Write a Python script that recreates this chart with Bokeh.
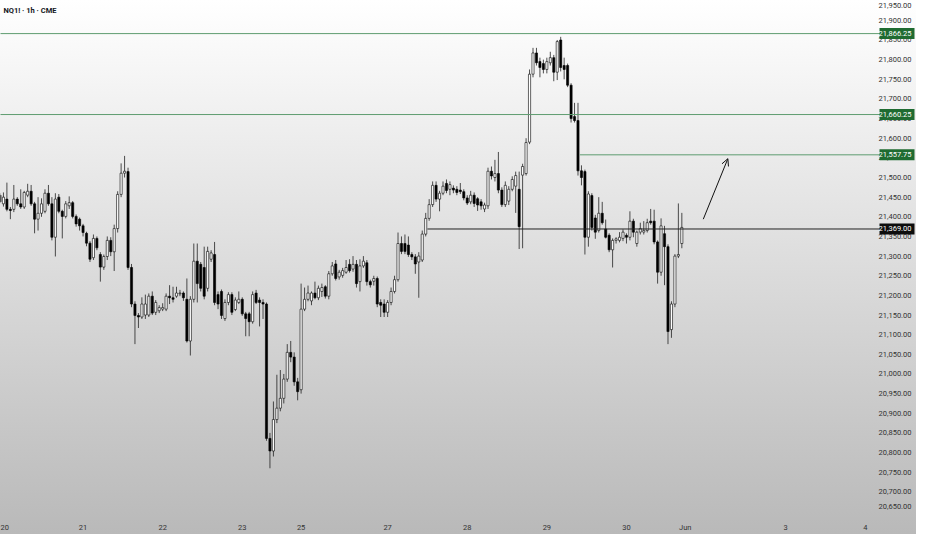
from bokeh.plotting import figure
from bokeh.models import (ColumnDataSource, Label, Arrow, OpenHead, FixedTicker,
                          InlineStyleSheet)
from bokeh.core.properties import value
from bokeh.embed import file_html
from bokeh.resources import INLINE

# NQ1! hourly bars (CME, ET), 19 May 23:00 -> 30 May 16:00
opens = [21455, 21433, 21445, 21419, 21419, 21445, 21433, 21425, 21455, 21465,
         21433, 21394, 21409, 21414, 21460, 21433, 21348, 21450, 21414, 21401,
         21428, 21436, 21401, 21394, 21377, 21358, 21333, 21296, 21345, 21304,
         21272, 21299, 21340, 21311, 21370, 21457, 21511, 21515, 21271, 21178,
         21149, 21145, 21150, 21150, 21198, 21157, 21161, 21165, 21165, 21198,
         21194, 21198, 21204, 21206, 21190, 21084, 21190, 21287, 21279, 21271,
         21218, 21292, 21304, 21202, 21210, 21141, 21182, 21202, 21164, 21182,
         21190, 21153, 21153, 21133, 21206, 21188, 21182, 21178, 20836, 20804,
         20884, 20913, 20938, 20987, 21055, 21043, 20980, 20960, 21165, 21190,
         21186, 21206, 21194, 21210, 21222, 21198, 21255, 21280, 21247, 21251,
         21259, 21279, 21267, 21279, 21235, 21275, 21283, 21235, 21236, 21243,
         21182, 21178, 21157, 21182, 21210, 21240, 21332, 21332, 21328, 21304,
         21298, 21285, 21290, 21356, 21396, 21431, 21480, 21445, 21460, 21485,
         21470, 21473, 21470, 21468, 21464, 21448, 21438, 21455, 21446, 21438,
         21420, 21428, 21516, 21500, 21510, 21468, 21431, 21440, 21470, 21478,
         21470, 21506, 21510, 21590, 21763, 21817, 21795, 21790, 21775, 21792,
         21805, 21768, 21850, 21785, 21785, 21735, 21655, 21645, 21517, 21515,
         21348, 21454, 21397, 21365, 21409, 21369, 21353, 21316, 21340, 21340,
         21345, 21353, 21348, 21389, 21332, 21361, 21361, 21365, 21389, 21389,
         21336, 21259, 21357, 21324, 21113, 21178, 21300, 21332]
highs = [21460, 21462, 21487, 21425, 21481, 21450, 21470, 21466, 21484, 21481,
         21438, 21450, 21447, 21470, 21481, 21450, 21460, 21458, 21418, 21440,
         21452, 21440, 21406, 21398, 21382, 21362, 21338, 21355, 21350, 21310,
         21304, 21350, 21348, 21380, 21465, 21536, 21555, 21525, 21280, 21185,
         21155, 21195, 21202, 21205, 21210, 21188, 21175, 21180, 21205, 21226,
         21222, 21222, 21214, 21210, 21243, 21198, 21332, 21332, 21285, 21324,
         21324, 21315, 21336, 21210, 21215, 21190, 21208, 21208, 21195, 21210,
         21195, 21158, 21158, 21210, 21214, 21195, 21190, 21182, 20850, 20930,
         20998, 21010, 21000, 21076, 21084, 21055, 20990, 21230, 21220, 21225,
         21210, 21235, 21225, 21230, 21226, 21262, 21285, 21290, 21265, 21270,
         21290, 21292, 21300, 21290, 21292, 21300, 21290, 21240, 21250, 21248,
         21190, 21190, 21188, 21220, 21250, 21360, 21350, 21355, 21350, 21310,
         21305, 21310, 21365, 21410, 21445, 21490, 21490, 21466, 21490, 21495,
         21490, 21480, 21478, 21486, 21470, 21455, 21466, 21462, 21450, 21445,
         21436, 21525, 21528, 21545, 21565, 21475, 21490, 21478, 21503, 21515,
         21515, 21535, 21600, 21775, 21830, 21830, 21805, 21800, 21805, 21820,
         21812, 21850, 21858, 21805, 21790, 21740, 21690, 21690, 21531, 21520,
         21465, 21460, 21405, 21450, 21438, 21393, 21358, 21345, 21348, 21361,
         21368, 21358, 21414, 21395, 21365, 21385, 21389, 21395, 21420, 21418,
         21340, 21396, 21377, 21330, 21185, 21305, 21434, 21410]
lows = [21435, 21426, 21414, 21394, 21412, 21428, 21420, 21420, 21450, 21428,
        21358, 21365, 21400, 21409, 21428, 21340, 21299, 21409, 21345, 21396,
        21420, 21396, 21375, 21365, 21350, 21325, 21285, 21290, 21315, 21235,
        21265, 21290, 21300, 21262, 21360, 21450, 21500, 21265, 21170, 21076,
        21117, 21140, 21140, 21145, 21150, 21150, 21155, 21160, 21160, 21178,
        21182, 21194, 21198, 21186, 21080, 21047, 21182, 21182, 21210, 21190,
        21210, 21285, 21175, 21165, 21140, 21135, 21175, 21150, 21160, 21178,
        21148, 21096, 21096, 21128, 21178, 21121, 21140, 20830, 20760, 20790,
        20875, 20905, 20925, 20980, 21030, 20970, 20933, 20950, 21160, 21185,
        21175, 21190, 21188, 21196, 21192, 21190, 21250, 21238, 21240, 21245,
        21255, 21258, 21260, 21220, 21210, 21270, 21225, 21220, 21225, 21170,
        21145, 21145, 21145, 21175, 21205, 21235, 21305, 21305, 21298, 21290,
        21255, 21194, 21285, 21350, 21390, 21425, 21438, 21414, 21455, 21460,
        21455, 21460, 21455, 21458, 21442, 21430, 21432, 21425, 21415, 21418,
        21412, 21420, 21495, 21490, 21460, 21425, 21425, 21430, 21465, 21410,
        21318, 21320, 21505, 21585, 21755, 21785, 21755, 21765, 21765, 21785,
        21745, 21748, 21770, 21750, 21730, 21640, 21640, 21505, 21480, 21304,
        21324, 21365, 21344, 21360, 21380, 21345, 21310, 21271, 21332, 21335,
        21338, 21332, 21340, 21348, 21324, 21355, 21355, 21360, 21380, 21330,
        21230, 21250, 21226, 21076, 21092, 21170, 21295, 21320]
closes = [21438, 21450, 21419, 21416, 21445, 21433, 21425, 21462, 21465, 21433,
          21394, 21409, 21433, 21460, 21433, 21348, 21445, 21414, 21401, 21433,
          21436, 21401, 21382, 21377, 21360, 21333, 21292, 21345, 21321, 21272,
          21299, 21340, 21311, 21370, 21457, 21511, 21516, 21271, 21178, 21149,
          21145, 21178, 21178, 21198, 21155, 21182, 21169, 21169, 21198, 21194,
          21190, 21206, 21206, 21194, 21084, 21190, 21287, 21230, 21218, 21198,
          21312, 21308, 21182, 21178, 21149, 21182, 21202, 21157, 21188, 21190,
          21153, 21141, 21133, 21202, 21182, 21182, 21178, 20836, 20804, 20884,
          20913, 20938, 20987, 21055, 21043, 20980, 20955, 21165, 21190, 21206,
          21206, 21194, 21218, 21220, 21198, 21255, 21275, 21243, 21259, 21263,
          21271, 21263, 21279, 21230, 21275, 21287, 21235, 21227, 21243, 21178,
          21175, 21157, 21182, 21210, 21240, 21332, 21312, 21312, 21304, 21298,
          21280, 21300, 21356, 21396, 21431, 21480, 21445, 21460, 21478, 21467,
          21482, 21468, 21462, 21464, 21448, 21435, 21455, 21434, 21430, 21428,
          21430, 21516, 21504, 21510, 21468, 21431, 21480, 21470, 21495, 21505,
          21375, 21528, 21589, 21763, 21817, 21792, 21780, 21775, 21795, 21805,
          21768, 21846, 21780, 21775, 21735, 21650, 21645, 21517, 21500, 21348,
          21458, 21373, 21361, 21409, 21385, 21348, 21316, 21340, 21344, 21348,
          21361, 21348, 21389, 21361, 21361, 21370, 21365, 21385, 21385, 21336,
          21259, 21377, 21324, 21108, 21178, 21300, 21304, 21373]

# first bar of each session date on the time axis
day_ticks = [1, 24, 47, 70, 87, 112, 135, 158, 181, 198, 227, 250]
day_labels = ["20", "21", "22", "23", "25", "27", "28", "29", "30", "Jun", "3", "4"]

# price scale
price_ticks = list(range(20650, 21951, 50))

# drawn price levels and the bar where each one starts
levels = [21866.25, 21660.25, 21557.75, 21369.00]
level_from = [0, 0, 167.5, 123.5]

# hand drawn arrow (bar index, price)
arrow_from = (203.2, 21394)
arrow_to = (210.3, 21548)

W, H = 916, 534
X0, X1 = 0.15, 264.8          # bar-index range across the whole width
Y0, Y1 = 20650, 21950.5
SCALE_W = 38                  # width of the price scale strip on the right
FONT = "Roboto"
level_line = ["#5e9c70", "#5e9c70", "#5e9c70", "#222222"]
level_box = ["#1f6b31", "#1f6b31", "#1f6b31", "#0d0d0d"]


def px(xpix):
    # bar index at a horizontal pixel position of the plot
    return X0 + xpix * (X1 - X0) / W


source = ColumnDataSource(data=dict(
    x=list(range(len(closes))),
    top=[max(o, c) for o, c in zip(opens, closes)],
    bottom=[min(o, c) for o, c in zip(opens, closes)],
    high=highs,
    low=lows,
    fill=["#ffffff" if c >= o else "#000000" for o, c in zip(opens, closes)],
))

p = figure(width=W, height=H, x_range=(X0, X1), y_range=(Y0, Y1),
           toolbar_location=None, output_backend="svg", y_axis_location=None,
           min_border_left=0, min_border_top=0, min_border_right=0, min_border_bottom=17)
p.background_fill_color = None
p.border_fill_color = None
p.outline_line_color = None
p.stylesheets = [InlineStyleSheet(
    css=":host { background: linear-gradient(to bottom, #ffffff 0%, #dcdcdc 50%, #b9b9b9 100%); }")]
p.xgrid.grid_line_color = None
p.ygrid.grid_line_color = None

p.segment(x0="x", y0="high", x1="x", y1="low", source=source, line_color="#222222", line_width=0.8)
p.vbar(x="x", top="top", bottom="bottom", width=0.62, source=source,
       fill_color="fill", line_color="#000000", line_width=0.6)

line_end = px(W - SCALE_W + 2)
for price, start, lc in zip(levels, level_from, level_line):
    p.segment(x0=[start], y0=[price], x1=[line_end], y1=[price], line_color=lc, line_width=1)

# price scale on the right; the two edge labels are nudged inside the frame
label_x = px(W - 5)
nudge = [-5 if t == Y0 else (5 if t >= Y1 - 1 else 0) for t in price_ticks]
p.text(x=[label_x] * len(price_ticks), y=price_ticks, y_offset=nudge,
       text=[f"{t:,.2f}" for t in price_ticks], text_align="right", text_baseline="middle",
       text_font=value(FONT), text_font_size=value("7.5px"), text_color="#333333")

# level tags on the price scale
p.rect(x=[px(W - SCALE_W + 18.5)] * len(levels), y=levels, width=35, height=11,
       width_units="screen", height_units="screen", fill_color=level_box, line_color=None)
p.text(x=[label_x] * len(levels), y=levels, text=[f"{v:,.2f}" for v in levels],
       text_align="right", text_baseline="middle", text_font=value(FONT),
       text_font_size=value("7.5px"), text_color="#ffffff")

p.add_layout(Arrow(end=OpenHead(size=7, line_width=1, line_color="#111111"),
                   x_start=arrow_from[0], y_start=arrow_from[1],
                   x_end=arrow_to[0], y_end=arrow_to[1],
                   line_width=1, line_color="#111111"))

p.add_layout(Label(x=1.0, y=21926, text="NQ1! · 1h · CME", text_font=FONT,
                   text_font_size="7.5px", text_font_style="bold",
                   text_color="#131722", text_baseline="middle"))

p.xaxis.ticker = FixedTicker(ticks=day_ticks)
p.xaxis.major_label_overrides = dict(zip(day_ticks, day_labels))
p.xaxis.axis_line_color = None
p.xaxis.major_tick_line_color = None
p.xaxis.minor_tick_line_color = None
p.xaxis.major_label_text_font = FONT
p.xaxis.major_label_text_font_size = "7.5px"
p.xaxis.major_label_text_color = "#333333"
p.xaxis.major_label_standoff = 5

open("out.html", "w", encoding="utf-8").write(file_html(p, INLINE))
